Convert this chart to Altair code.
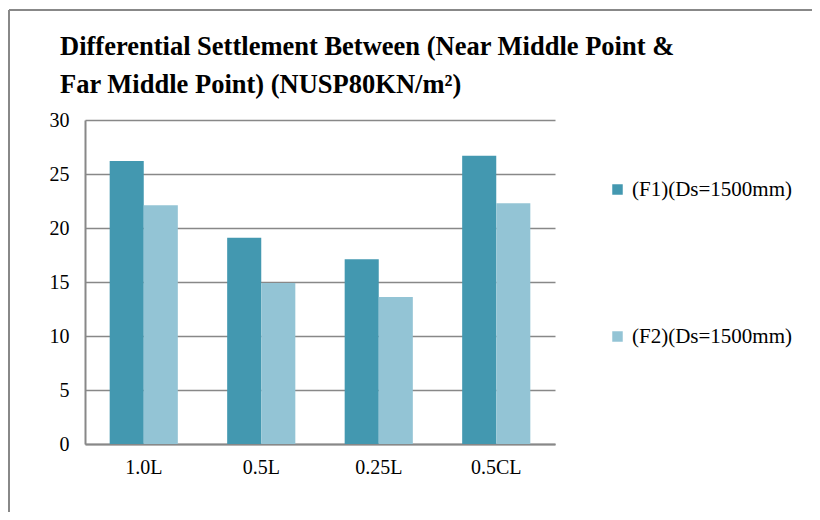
import altair as alt
import pandas as pd

categories = ["1.0L", "0.5L", "0.25L", "0.5CL"]
series_names = ["(F1)(Ds=1500mm)", "(F2)(Ds=1500mm)"]
f1_values = [26.2, 19.1, 17.1, 26.7]
f2_values = [22.1, 14.9, 13.6, 22.3]
colors = ["#4398B0", "#93C4D5"]

rows = []
for c, a, b in zip(categories, f1_values, f2_values):
    rows.append({"cat": c, "series": series_names[0], "value": a})
    rows.append({"cat": c, "series": series_names[1], "value": b})
df = pd.DataFrame(rows)

font = "Liberation Serif"

bars = alt.Chart(df).mark_bar().encode(
    x=alt.X("cat:N", sort=categories, title=None,
            scale=alt.Scale(paddingInner=0.42, paddingOuter=0.21),
            axis=alt.Axis(labelAngle=0, labelPadding=13, ticks=False,
                          domainColor="#888888", domainWidth=2)),
    xOffset=alt.XOffset("series:N", sort=series_names),
    y=alt.Y("value:Q", title=None,
            scale=alt.Scale(domain=[0, 30]),
            axis=alt.Axis(values=[0, 5, 10, 15, 20, 25, 30], ticks=False,
                          labelPadding=16, domainColor="#888888", domainWidth=2,
                          gridColor="#888888", gridWidth=1.5)),
    color=alt.Color("series:N", sort=series_names,
                    scale=alt.Scale(domain=series_names, range=colors),
                    legend=alt.Legend(title=None, orient="none", legendX=522, legendY=59,
                                      symbolType="square", symbolSize=110,
                                      symbolStrokeWidth=0, rowPadding=125,
                                      labelFont=font, labelFontSize=21, labelLimit=400,
                                      labelColor="black", labelOffset=4)),
)

base = alt.Chart(pd.DataFrame({"a": [0]}))
top_line = base.mark_rule(color="#888888", strokeWidth=2).encode(
    x=alt.value(-76), x2=alt.value(740), y=alt.value(-110))
left_line = base.mark_rule(color="#888888", strokeWidth=2).encode(
    x=alt.value(-76), y=alt.value(-110), y2=alt.value(410))

chart = alt.layer(top_line, left_line, bars).properties(
    width=470, height=324,
    autosize=alt.AutoSizeParams(type="none"),
    padding={"left": 77, "top": 112, "right": 257, "bottom": 68},
    title=alt.Title(
        ["Differential Settlement Between (Near Middle Point &",
         "Far Middle Point) (NUSP80KN/m²)"],
        anchor="start", frame="group", dx=-25, offset=-89,
        font=font, fontSize=26.5, fontWeight="bold", color="black",
        lineHeight=38,
    ),
).configure_view(stroke=None).configure_axis(
    labelFont=font, labelFontSize=20, labelColor="black"
)

chart.save("out.html", embed_options={"renderer": "svg", "actions": False})
